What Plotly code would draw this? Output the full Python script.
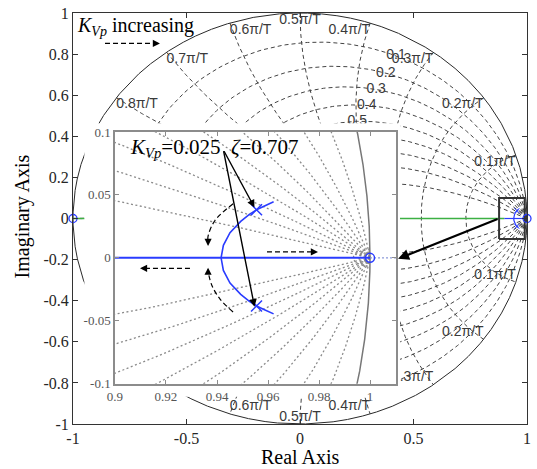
import numpy as np
import plotly.graph_objects as go

# ---- z-plane grid (constant damping / constant natural frequency) ----
zeta_values = [0.1, 0.2, 0.3, 0.4, 0.5, 0.6, 0.7, 0.8, 0.9]
wn_values = [0.1, 0.2, 0.3, 0.4, 0.5, 0.6, 0.7, 0.8, 0.9, 1.0]   # in units of pi/T
wn_fine_values = [0.0007, 0.0014, 0.0021]                         # finer grid near z = 1
zeta_label_values = [0.1, 0.2, 0.3, 0.4, 0.5]
wn_label_values = [0.1, 0.2, 0.3, 0.4, 0.5, 0.6, 0.7, 0.8]

# ---- root locus near z = 1 ----
locus_real_x = [0.90, 1.00]
locus_real_y = [0.0, 0.0]
locus_arc_x = [0.9622, 0.9584, 0.9555, 0.9527, 0.9493, 0.9451, 0.9425, 0.9416,
               0.9425, 0.9451, 0.9493, 0.9527, 0.9555, 0.9584, 0.9622]
locus_arc_y = [0.0445, 0.0410, 0.0382, 0.0345, 0.0290, 0.0200, 0.0100, 0.0,
               -0.0100, -0.0200, -0.0290, -0.0345, -0.0382, -0.0410, -0.0445]
design_x = [0.9555, 0.9555]          # K_Vp = 0.025, zeta = 0.707
design_y = [0.0382, -0.0382]
pz_x = [-1.0, 1.0]
pz_y = [0.0, 0.0]
green_x = [-1.0, 0.90]
green_y = [0.0, 0.0]

# ---- ticks ----
main_xticks = [-1, -0.5, 0, 0.5, 1]
main_xtick_text = ["-1", "-0.5", "0", "0.5", "1"]
main_yticks = [-1, -0.8, -0.6, -0.4, -0.2, 0, 0.2, 0.4, 0.6, 0.8, 1]
main_ytick_text = ["-1", "-0.8", "-0.6", "-0.4", "-0.2", "0", "0.2", "0.4", "0.6", "0.8", "1"]
inset_xticks = [0.9, 0.92, 0.94, 0.96, 0.98, 1.0]
inset_xtick_text = ["0.9", "0.92", "0.94", "0.96", "0.98", "1"]
inset_yticks = [-0.1, -0.05, 0, 0.05, 0.1]
inset_ytick_text = ["-0.1", "-0.05", "0", "0.05", "0.1"]

BLUE = "#2a3cff"
GREEN = "#3cb043"
SERIF = "Liberation Serif"
SANS = "Liberation Sans"

PHI = np.concatenate([[0.0], np.geomspace(1e-5, np.pi, 900)])
ZE = np.sin(np.linspace(0, np.pi / 2, 500))


def zeta_curve(z):
    wd = np.sqrt(1 - z * z)
    return np.exp(PHI / wd * (-z + 1j * wd))


def wn_curve(w):
    wt = w * np.pi
    up = np.exp(wt * (-ZE + 1j * np.sqrt(np.clip(1 - ZE ** 2, 0, None))))
    return np.concatenate([up, np.conj(up[::-1])])


def grid_xy(zetas, wns):
    xs, ys = [], []
    for z in zetas:
        p = zeta_curve(z)
        for q in (p, np.conj(p)):
            xs += list(q.real) + [None]
            ys += list(q.imag) + [None]
    for w in wns:
        q = wn_curve(w)
        xs += list(q.real) + [None]
        ys += list(q.imag) + [None]
    return xs, ys


TH = np.linspace(0, 2 * np.pi, 8000)
circ_x, circ_y = np.cos(TH), np.sin(TH)

fig = go.Figure()

# ---------------- main z-plane ----------------
gx, gy = grid_xy(zeta_values, wn_values)
fig.add_trace(go.Scatter(x=gx, y=gy, mode="lines", hoverinfo="skip",
                         line=dict(color="#444444", width=1, dash="4px,3px")))
fig.add_trace(go.Scatter(x=circ_x, y=circ_y, mode="lines", hoverinfo="skip",
                         line=dict(color="#2a2a2a", width=1)))
fig.add_trace(go.Scatter(x=green_x, y=green_y, mode="lines",
                         line=dict(color=GREEN, width=1.5)))
# zoomed region marker
bx0, bx1, by0, by1 = 0.877, 0.99, -0.1, 0.1
fig.add_trace(go.Scatter(x=[bx0, bx1, bx1, bx0, bx0], y=[by0, by0, by1, by1, by0],
                         mode="lines", line=dict(color="#333333", width=2)))
fig.add_trace(go.Scatter(x=locus_real_x, y=locus_real_y, mode="lines",
                         line=dict(color=BLUE, width=1.2)))
fig.add_trace(go.Scatter(x=locus_arc_x, y=locus_arc_y, mode="lines",
                         line=dict(color=BLUE, width=1.2)))
fig.add_trace(go.Scatter(x=design_x, y=design_y, mode="markers",
                         marker=dict(symbol="x-thin", size=5, color=BLUE,
                                     line=dict(color=BLUE, width=1))))
fig.add_trace(go.Scatter(x=pz_x, y=pz_y, mode="markers", cliponaxis=False,
                         marker=dict(symbol="circle-open", size=8, color=BLUE,
                                     line=dict(color=BLUE, width=1.3))))

# grid labels
lx, ly, lt = [], [], []
for z in zeta_label_values:
    wd = np.sqrt(1 - z * z)
    p = np.exp(1.08 / wd * (-z + 1j * wd))
    lx.append(p.real); ly.append(p.imag); lt.append(f"{z:g}")
fig.add_trace(go.Scatter(x=lx, y=ly, text=lt, mode="text", textposition="middle center",
                         textfont=dict(family=SANS, size=14, color="#3a3a3a")))
for sign in (1, -1):
    wx, wy, wt, wp = [], [], [], []
    for w in wn_label_values:
        th = w * np.pi
        c = np.cos(th)
        wx.append(c); wy.append(sign * np.sin(th)); wt.append(f"{w:g}\u03c0/T")
        vert = "bottom" if sign > 0 else "top"
        horiz = "left" if c > 0.01 else ("right" if c < -0.01 else "center")
        wp.append(f"{vert} {horiz}")
    fig.add_trace(go.Scatter(x=wx, y=wy, text=wt, mode="text", textposition=wp,
                             textfont=dict(family=SANS, size=14, color="#3a3a3a")))

# white backing for the detail view
fig.add_trace(go.Scatter(x=[-0.95, 0.4405, 0.4405, -0.95, -0.95],
                         y=[0.464, 0.464, -0.868, -0.868, 0.464],
                         mode="lines", fill="toself", fillcolor="white",
                         line=dict(width=0, color="white"), hoverinfo="skip"))

# ---------------- detail view near z = 1 ----------------
ix, iy = grid_xy(zeta_values, wn_fine_values)
fig.add_trace(go.Scatter(x=ix, y=iy, mode="lines", xaxis="x2", yaxis="y2", hoverinfo="skip",
                         line=dict(color="#8a8a8a", width=1.3, dash="2px,2.5px")))
fig.add_trace(go.Scatter(x=circ_x, y=circ_y, mode="lines", xaxis="x2", yaxis="y2",
                         line=dict(color="#777777", width=1.5)))
fig.add_trace(go.Scatter(x=[1.0, 1.011], y=[0.0, 0.0], mode="lines", xaxis="x2", yaxis="y2",
                         line=dict(color="#8c9ad8", width=1.3, dash="2px,2px")))
fig.add_trace(go.Scatter(x=locus_real_x, y=locus_real_y, mode="lines", xaxis="x2", yaxis="y2",
                         line=dict(color=BLUE, width=2)))
fig.add_trace(go.Scatter(x=locus_arc_x, y=locus_arc_y, mode="lines", xaxis="x2", yaxis="y2",
                         line=dict(color=BLUE, width=1.6)))
fig.add_trace(go.Scatter(x=design_x, y=design_y, mode="markers", xaxis="x2", yaxis="y2",
                         marker=dict(symbol="x-thin", size=11, color=BLUE,
                                     line=dict(color=BLUE, width=1.5))))
fig.add_trace(go.Scatter(x=[1.0], y=[0.0], mode="markers", xaxis="x2", yaxis="y2",
                         marker=dict(symbol="circle-open", size=9, color=BLUE,
                                     line=dict(color=BLUE, width=1.5))))

# dashed direction arrows (bodies)
dash_paths = [
    ([0.9463, 0.9392, 0.9365, 0.9365], [0.043, 0.0297, 0.0172, 0.0120]),
    ([0.9463, 0.9412, 0.9380, 0.9365], [-0.043, -0.0328, -0.0219, -0.0110]),
    ([0.9294, 0.9125], [-0.0083, -0.0083]),
    ([0.9596, 0.9770], [0.0047, 0.0047]),
]
for px_, py_ in dash_paths:
    fig.add_trace(go.Scatter(x=px_, y=py_, mode="lines", xaxis="x2", yaxis="y2",
                             line=dict(color="black", width=1.2, dash="5px,3px"),
                             line_shape="spline"))
fig.add_trace(go.Scatter(x=[-0.859, -0.64], y=[0.852, 0.852], mode="lines",
                         line=dict(color="black", width=1.2, dash="5px,3px")))

annotations = []


def head(x, y, ax, ay, ref="x", yref="y"):
    annotations.append(dict(x=x, y=y, ax=ax, ay=ay, xref=ref, yref=yref,
                            axref=ref, ayref=yref, text="", showarrow=True,
                            arrowhead=2, arrowsize=1.1, arrowwidth=1.3, arrowcolor="black"))


head(0.9365, 0.0094, 0.9365, 0.0130, "x2", "y2")
head(0.9365, -0.0078, 0.9365, -0.0115, "x2", "y2")
head(0.9098, -0.0083, 0.9130, -0.0083, "x2", "y2")
head(0.9796, 0.0047, 0.9765, 0.0047, "x2", "y2")
head(-0.617, 0.852, -0.645, 0.852)

# pointers to the design poles
for ty in design_y:
    annotations.append(dict(x=design_x[0] - 0.0008, y=ty + (0.0018 if ty > 0 else -0.0006),
                            ax=0.94247, ay=0.0859, xref="x2", yref="y2",
                            axref="x2", ayref="y2", text="", showarrow=True,
                            arrowhead=2, arrowsize=1.1, arrowwidth=1.4, arrowcolor="black"))
# pointer from the zoom box to the detail view
annotations.append(dict(x=0.432, y=-0.196, ax=0.877, ay=0.0, xref="x", yref="y",
                        axref="x", ayref="y", text="", showarrow=True,
                        arrowhead=2, arrowsize=1.0, arrowwidth=2.2, arrowcolor="black"))

annotations.append(dict(x=-0.991, y=0.933, xref="x", yref="y", xanchor="left", yanchor="middle",
                        showarrow=False,
                        text="<i>K</i><sub><i>Vp</i></sub> increasing",
                        font=dict(family=SERIF, size=20, color="black")))
annotations.append(dict(x=0.9051, y=0.0875, xref="x2", yref="y2", xanchor="left", yanchor="middle",
                        showarrow=False,
                        text="<i>K</i><sub><i>Vp</i></sub>=0.025\u00a0\u00a0<i>\u03b6</i>=0.707",
                        font=dict(family=SERIF, size=21, color="black")))
annotations.append(dict(x=0.5, y=-0.081, xref="paper", yref="paper", showarrow=False,
                        xanchor="center", yanchor="middle",
                        text="Real Axis", font=dict(family=SERIF, size=20, color="black")))
annotations.append(dict(x=-0.1123, y=0.505, xref="paper", yref="paper", showarrow=False,
                        xanchor="center", yanchor="middle",
                        textangle=-90, text="Imaginary Axis",
                        font=dict(family=SERIF, size=20, color="black")))

axis_main = dict(showgrid=False, zeroline=False, showline=True, mirror="ticks",
                 linecolor="#333333", linewidth=1, ticks="inside", ticklen=5,
                 tickcolor="#333333", tickfont=dict(family=SERIF, size=16, color="#262626"))
axis_inset = dict(showgrid=False, zeroline=False, showline=True, mirror="ticks",
                  linecolor="#8c8c8c", linewidth=1.5, ticks="inside", ticklen=4,
                  tickcolor="#8c8c8c", tickfont=dict(family=SERIF, size=13, color="#555555"))

fig.update_layout(
    width=537, height=469,
    margin=dict(l=73, r=10, t=6, b=45),
    paper_bgcolor="white", plot_bgcolor="white",
    showlegend=False,
    font=dict(family=SERIF),
    xaxis=dict(axis_main, range=[-1, 1], tickvals=main_xticks, ticktext=main_xtick_text,
               domain=[0, 1]),
    yaxis=dict(axis_main, range=[-1, 1], tickvals=main_yticks, ticktext=main_ytick_text,
               domain=[0, 1]),
    xaxis2=dict(axis_inset, range=[0.9, 1.0102], tickvals=inset_xticks,
                ticktext=inset_xtick_text, domain=[0.0925, 0.7115], anchor="y2"),
    yaxis2=dict(axis_inset, range=[-0.1, 0.1], tickvals=inset_yticks,
                ticktext=inset_ytick_text, domain=[0.098, 0.7105], anchor="x2"),
    annotations=annotations,
)

fig.write_html("out.html")
